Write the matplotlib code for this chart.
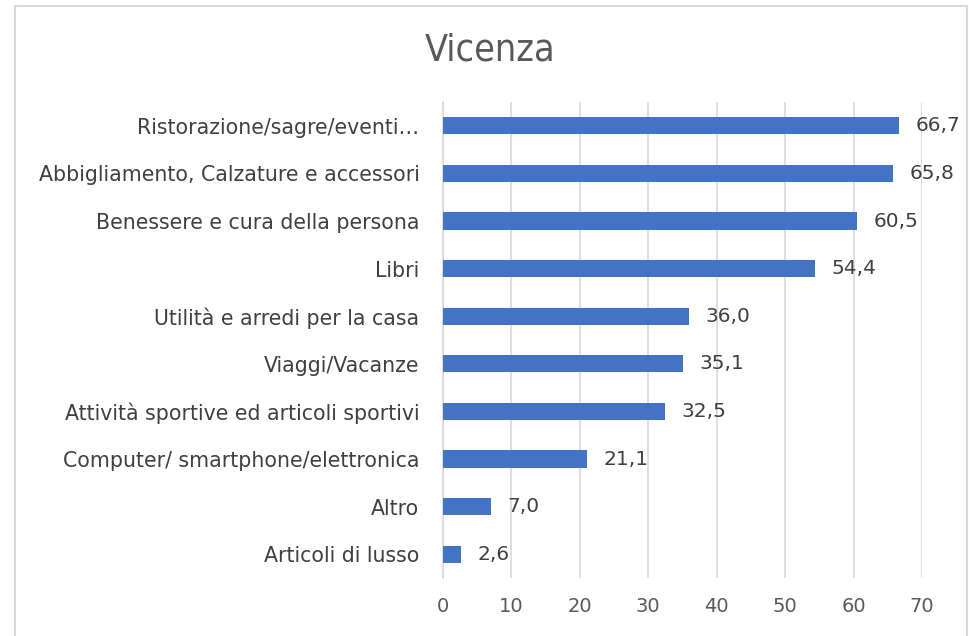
import matplotlib.pyplot as plt
from matplotlib.patches import Rectangle

categories = [
    "Ristorazione/sagre/eventi…",
    "Abbigliamento, Calzature e accessori",
    "Benessere e cura della persona",
    "Libri",
    "Utilità e arredi per la casa",
    "Viaggi/Vacanze",
    "Attività sportive ed articoli sportivi",
    "Computer/ smartphone/elettronica",
    "Altro",
    "Articoli di lusso",
]
values = [66.7, 65.8, 60.5, 54.4, 36.0, 35.1, 32.5, 21.1, 7.0, 2.6]
xticks = [0, 10, 20, 30, 40, 50, 60, 70]

fig = plt.figure(figsize=(9.7, 6.36), dpi=100)
ax = fig.add_axes([0.4567, 0.0912, 0.4938, 0.7484])

ypos = list(range(len(categories)))
ax.barh(ypos, values, height=0.36, color="#4472C4", zorder=3)
ax.set_ylim(len(categories) - 0.5, -0.5)
ax.set_xlim(0, 70)
ax.set_yticks(ypos)
ax.set_yticklabels(categories, fontsize=14.8, color="#404040")
ax.set_xticks(xticks)
ax.set_xticklabels([str(t) for t in xticks], fontsize=14, color="#595959")
ax.tick_params(axis="both", length=0)
ax.tick_params(axis="y", pad=17)
ax.tick_params(axis="x", pad=14)
ax.grid(axis="x", color="#d9d9d9", linewidth=1.2, zorder=0)
for s in ["top", "right", "bottom"]:
    ax.spines[s].set_visible(False)
ax.spines["left"].set_color("#d9d9d9")
ax.spines["left"].set_linewidth(1.2)

for y, v in zip(ypos, values):
    ax.text(v + 2.4, y, f"{v:.1f}".replace(".", ","), va="center", ha="left",
            fontsize=14.5, color="#404040")

fig.text(0.505, 0.921, "Vicenza", ha="center", va="center", fontsize=27,
         color="#595959", fontstretch="condensed")

fig.patches.append(Rectangle((15 / 970, -0.01), (967 - 15) / 970, (630 / 636) + 0.01,
                             transform=fig.transFigure, fill=False,
                             edgecolor="#d9d9d9", linewidth=1.5))

fig.savefig("out.png", dpi=100)
